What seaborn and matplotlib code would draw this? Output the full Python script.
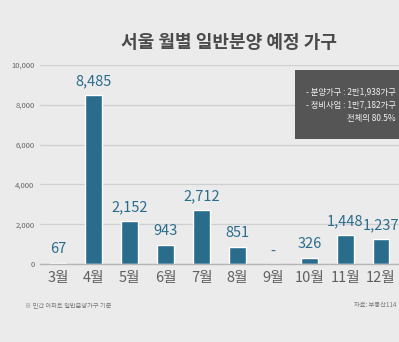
import matplotlib
matplotlib.use("Agg")
import matplotlib.pyplot as plt
import seaborn as sns
import pandas as pd
from matplotlib.patches import Rectangle

months = ["3월", "4월", "5월", "6월", "7월", "8월", "9월", "10월", "11월", "12월"]
values = [67, 8485, 2152, 943, 2712, 851, 0, 326, 1448, 1237]
labels = ["67", "8,485", "2,152", "943", "2,712", "851", "-", "326", "1,448", "1,237"]
yticks = [0, 2000, 4000, 6000, 8000, 10000]
ytick_labels = ["0", "2,000", "4,000", "6,000", "8,000", "10,000"]
title = "서울 월별 일반분양 예정 가구"
box_lines = ["- 분양가구 : 2만1,938가구", "- 정비사업 : 1만7,182가구", "전체의 80.5%"]
footnote = "※ 민간 아파트 일반분양가구 기준"
source = "자료: 부동산114"

sns.set_theme(style="white")
plt.rcParams['font.family'] = ['Noto Sans CJK KR', 'DejaVu Sans']

BG = "#ebebeb"
BAR = "#2a6c8c"
W, H = 399, 342
fig = plt.figure(figsize=(W / 100, H / 100), dpi=100, facecolor=BG)

left_px, right_px, bot_px, top_px = 40, 399, 264, 65
ax = fig.add_axes([left_px / W, 1 - bot_px / H, (right_px - left_px) / W, (bot_px - top_px) / H])
ax.set_facecolor(BG)

df = pd.DataFrame({"month": months, "value": values})
sns.barplot(data=df, x="month", y="value", color=BAR, saturation=1, width=0.47, ax=ax)

ax.set_xlim(-0.5, (399 - 58) / 36)
ax.set_ylim(0, 10000)
ax.set_yticks(yticks)
ax.set_yticklabels(ytick_labels, fontsize=5.5, color="#666666")
ax.tick_params(axis="y", length=0, pad=4)
ax.tick_params(axis="x", length=0, pad=5, labelsize=10.5, labelcolor="#606060")
ax.set_xlabel("")
ax.set_ylabel("")
for s in ["top", "right", "left"]:
    ax.spines[s].set_visible(False)
ax.spines["bottom"].set_color("#b5b5b5")
ax.spines["bottom"].set_linewidth(1.0)
ax.yaxis.grid(True, color="#cfcfcf", linewidth=0.9)
ax.set_axisbelow(True)

# small separator ticks between months
ax.set_xticks([i + 0.5 for i in range(-1, 10)], minor=True)
ax.tick_params(axis="x", which="minor", length=3, direction="in", color="#c0c0c0", width=0.8)

for i, (v, lab) in enumerate(zip(values, labels)):
    y = v + 350 if v > 0 else 250
    ax.text(i, y, lab, ha="center", va="bottom", fontsize=10.5, color=BAR)

fig.text(229 / W, 1 - 42 / H, title, ha="center", va="center", fontsize=13,
         fontweight="bold", color="#4a4a4a")

# annotation box
fig.patches.append(Rectangle((295 / W, 1 - 139 / H), 120 / W, 69 / H,
                             transform=fig.transFigure, facecolor="#555555",
                             edgecolor="none", zorder=5))
fig.text(396 / W, 1 - 92 / H, box_lines[0], ha="right", va="center", fontsize=6,
         color="#f2f2f2", zorder=6)
fig.text(396 / W, 1 - 105 / H, box_lines[1], ha="right", va="center", fontsize=6,
         color="#f2f2f2", zorder=6)
fig.text(396 / W, 1 - 119 / H, box_lines[2], ha="right", va="center", fontsize=6,
         color="#f2f2f2", zorder=6)

fig.text(25 / W, 1 - 305 / H, footnote, ha="left", va="center", fontsize=4.5, color="#777777")
fig.text(396 / W, 1 - 305 / H, source, ha="right", va="center", fontsize=4.5, color="#777777")

fig.savefig("out.png", dpi=100, facecolor=BG)
